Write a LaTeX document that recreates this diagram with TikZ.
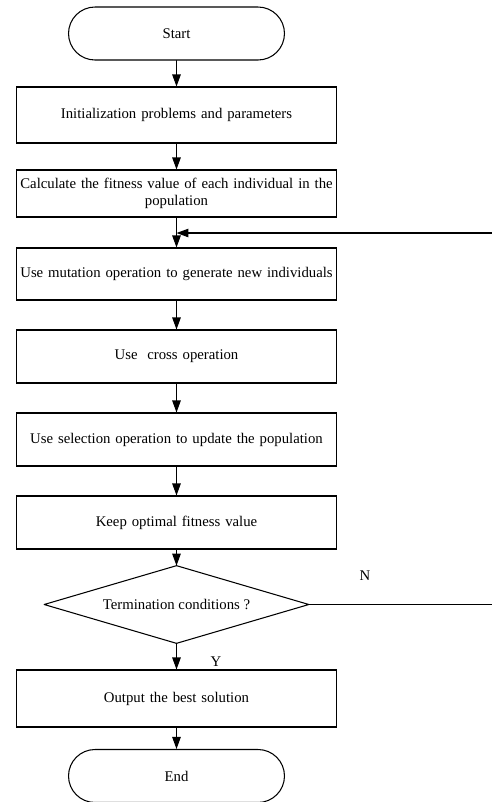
\documentclass[tikz,border=0pt]{standalone}
\usepackage{fontspec}
\setmainfont{Liberation Serif}
\usetikzlibrary{arrows.meta,positioning}
\tikzset{
  every node/.style={font=\fontsize{8.4}{10}\selectfont},
  stepbox/.style={rectangle, draw=black, line width=0.6pt, minimum width=6.42cm,
    minimum height=1.06cm, text width=6.3cm, align=center, inner sep=0pt},
  term/.style={rectangle, rounded corners=0.53cm, draw=black, line width=0.6pt,
    minimum width=4.32cm, minimum height=1.06cm},
  test/.style={rectangle, minimum width=5.28cm, minimum height=1.54cm, inner sep=0pt},
  link/.style={line width=0.6pt, line cap=round, line join=round},
  flow/.style={link, -{Triangle[length=0.24cm, width=0.17cm]}}
}
\begin{document}
\begin{tikzpicture}[x=0.02cm, y=-0.02cm]
  \useasboundingbox (0,0) rectangle (491,802);

  % main column
  \node[term] (start) at (176.5,33.5) {Start};
  \node[stepbox, minimum height=1.12cm] (init) at (176.5,115)
    {Initialization problems and parameters};
  \node[stepbox, minimum height=0.94cm] (fit) at (176.5,193.5)
    {Calculate the fitness value of each individual in the\\ population};
  \node[stepbox, minimum height=1.04cm] (mut) at (176.5,274)
    {Use mutation operation to generate new individuals};
  \node[stepbox] (cross) at (176.5,356.5) {Use\ \ cross operation};
  \node[stepbox] (sel) at (176.5,439.5)
    {Use selection operation to update the population};
  \node[stepbox] (keep) at (176.5,522.5) {Keep optimal fitness value};
  \node[test] (cond) at (176.5,604.5) {Termination conditions ?};
  \draw[link] (cond.north) -- (cond.east) -- (cond.south) -- (cond.west) -- cycle;
  \node[stepbox, minimum height=1.14cm] (out) at (176.5,698.5)
    {Output the best solution};
  \node[term] (end) at (176.5,776) {End};

  % labels
  \node (no) at (365,576) {N};
  \node (yes) at (216,662) {Y};

  % loop points
  \coordinate (join) at (176.5,233);
  \coordinate (back) at (530,233);

  \draw[flow] (start) -- (init);
  \draw[flow] (init) -- (fit);
  \draw[flow] (fit) -- (mut);
  \draw[flow] (mut) -- (cross);
  \draw[flow] (cross) -- (sel);
  \draw[flow] (sel) -- (keep);
  \draw[flow] (keep) -- (cond.north);
  \draw[flow] (cond.south) -- (out);
  \draw[flow] (out) -- (end);
  \draw[flow] (cond.east) -- (cond.east -| back) -- (back) -- (join);
\end{tikzpicture}
\end{document}
